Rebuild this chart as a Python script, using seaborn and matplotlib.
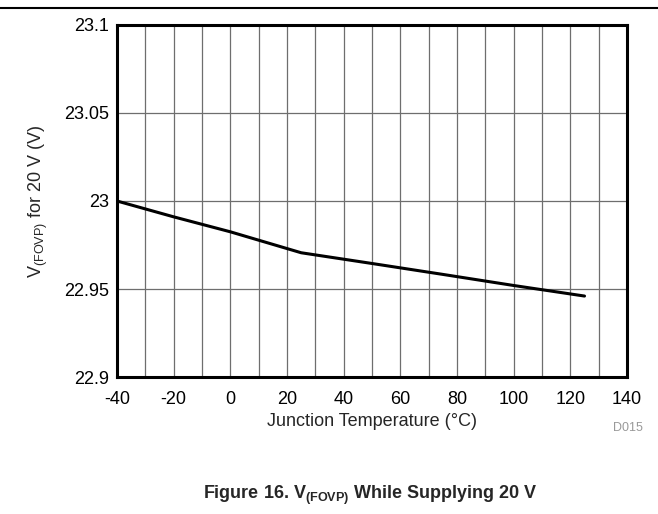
import numpy as np
import pandas as pd
import matplotlib
matplotlib.use('Agg')
import matplotlib.pyplot as plt
import seaborn as sns

# data
temp = [-40, -20, 0, 25, 50, 75, 100, 125]
v_fovp = [23.000, 22.991, 22.9825, 22.9706, 22.9645, 22.9583, 22.952, 22.946]

xticks = [-40, -20, 0, 20, 40, 60, 80, 100, 120, 140]
yticks = [22.9, 22.95, 23.0, 23.05, 23.1]
ytick_labels = ['22.9', '22.95', '23', '23.05', '23.1']

sns.set_style('white')
plt.rcParams['font.family'] = ['Liberation Sans', 'DejaVu Sans']
plt.rcParams['axes.unicode_minus'] = False
plt.rcParams['mathtext.fontset'] = 'custom'
plt.rcParams['mathtext.rm'] = 'Liberation Sans'
plt.rcParams['mathtext.bf'] = 'Liberation Sans:bold'

df = pd.DataFrame({'temp': temp, 'v': v_fovp})

fig = plt.figure(figsize=(6.58, 5.14), dpi=100)
ax = fig.add_axes([0.1778, 0.2665, 0.7751, 0.6849])

sns.lineplot(data=df, x='temp', y='v', color='black', linewidth=2.2, ax=ax)

ax.set_xlim(-40, 140)
ax.set_ylim(22.9, 23.1)
ax.set_xticks(xticks)
ax.set_xticks(np.arange(-30, 140, 20), minor=True)
ax.set_yticks(yticks)
ax.set_yticklabels(ytick_labels)
ax.grid(True, which='both', color='#6e6e6e', linewidth=0.9)
ax.tick_params(which='both', length=0, labelsize=13, colors='black')
ax.tick_params(axis='x', pad=10)
ax.tick_params(axis='y', pad=6)
for s in ax.spines.values():
    s.set_linewidth(2.2)
    s.set_color('black')

ax.set_xlabel('Junction Temperature (°C)', fontsize=13, labelpad=4)
ax.set_ylabel(r'V$_{\mathrm{(FOVP)}}$ for 20 V (V)', fontsize=13, labelpad=10)

fig.text(0.955, 0.167, 'D015', fontsize=9, color='#999999', ha='center', va='center')
fig.text(0.562, 0.036, r'Figure 16. V$_{\mathbf{(FOVP)}}$ While Supplying 20 V',
         fontsize=13, fontweight='bold', ha='center', va='center')
fig.add_artist(plt.Line2D([0, 1], [0.984, 0.984], transform=fig.transFigure,
                          color='black', linewidth=1.5))

fig.savefig('out.png', dpi=100)
